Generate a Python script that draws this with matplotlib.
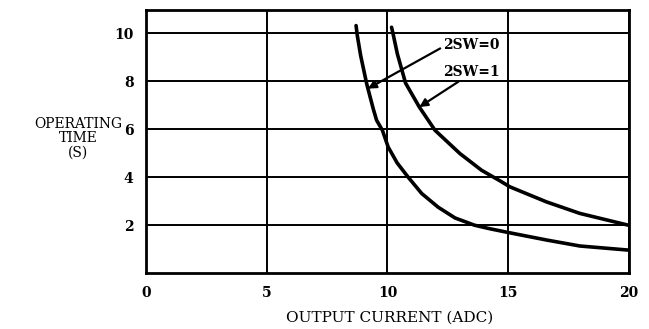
import matplotlib.pyplot as plt

# curve readings (output current A, operating time s)
sw0_current = [8.70, 8.75, 8.89, 9.14, 9.41, 9.55, 9.79, 10.03, 10.4, 10.86,
               11.42, 12.1, 12.8, 13.6, 14.24, 15.07, 16.59, 17.97, 19.97]
sw0_time = [10.33, 9.92, 9.08, 7.9, 6.86, 6.38, 5.96, 5.26, 4.6, 4.0,
            3.32, 2.75, 2.3, 2.0, 1.85, 1.68, 1.38, 1.13, 0.96]
sw1_current = [10.17, 10.23, 10.41, 10.75, 11.32, 11.97, 13.0, 13.9, 14.66,
               15.07, 16.59, 17.97, 19.97]
sw1_time = [10.26, 10.0, 9.15, 7.93, 6.93, 5.96, 4.99, 4.29, 3.85, 3.6,
            2.97, 2.49, 2.0]

x_ticks = [0, 5, 10, 15, 20]
y_ticks = [2, 4, 6, 8, 10]

fig = plt.figure(figsize=(6.49, 3.29), dpi=100)
ax = fig.add_axes([0.225, 0.170, 0.744, 0.801])

ax.plot(sw0_current, sw0_time, color="black", lw=2.6,
        solid_capstyle="round", solid_joinstyle="round")
ax.plot(sw1_current, sw1_time, color="black", lw=2.6,
        solid_capstyle="round", solid_joinstyle="round")

ax.set_xlim(0, 20)
ax.set_ylim(0, 11)
ax.set_xticks(x_ticks)
ax.set_yticks(y_ticks)
ax.grid(True, color="black", lw=1.4)
ax.tick_params(length=0, pad=9)
for lab in ax.get_xticklabels() + ax.get_yticklabels():
    lab.set_family("DejaVu Serif")
    lab.set_weight("bold")
    lab.set_fontsize(10)
for sp in ax.spines.values():
    sp.set_linewidth(2)

ann = dict(family="DejaVu Serif", weight="bold", fontsize=10, va="center", ha="left")
ax.annotate("2SW=0", xy=(9.19, 7.7), xytext=(12.3, 9.5),
            arrowprops=dict(arrowstyle="-|>", color="black", lw=1.6, shrinkA=0,
                            shrinkB=0, relpos=(0.0, 0.4), mutation_scale=12),
            **ann)
ax.annotate("2SW=1", xy=(11.32, 6.93), xytext=(12.3, 8.4),
            arrowprops=dict(arrowstyle="-|>", color="black", lw=1.6, shrinkA=0,
                            shrinkB=0, relpos=(0.35, 0.0), mutation_scale=12),
            **ann)

fig.text(0.12, 0.58, "OPERATING\nTIME\n(S)", ha="center", va="center",
         family="DejaVu Serif", fontsize=10, linespacing=1.0)
fig.text(0.60, 0.035, "OUTPUT CURRENT (ADC)", ha="center", va="center",
         family="DejaVu Serif", fontsize=11)

fig.savefig("out.png", dpi=100)
